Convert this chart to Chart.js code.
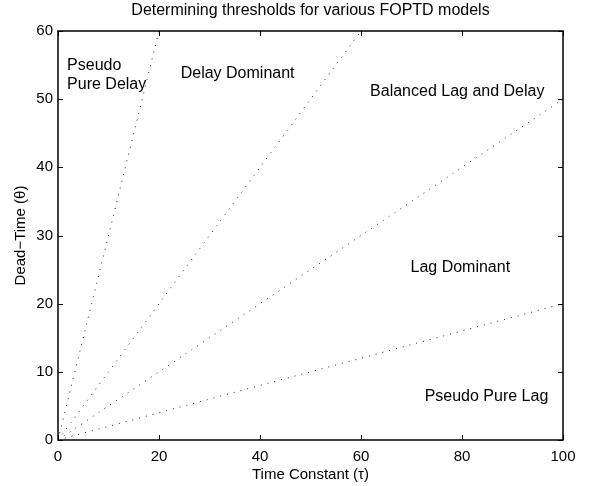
<!DOCTYPE html>
<html>
<head>
<meta charset="utf-8">
<script src="https://cdn.jsdelivr.net/npm/chart.js@4/dist/chart.umd.min.js"></script>
<style>
  html, body { margin: 0; padding: 0; background: #fff; }
  #wrap { width: 594px; height: 486px; }
</style>
</head>
<body>
<div id="wrap"><canvas id="chart" width="594" height="486"></canvas></div>
<script>
// threshold lines, each drawn from the origin to its end point
const lineNames = ['θ/τ = 3', 'θ/τ = 1', 'θ/τ = 0.5', 'θ/τ = 0.2'];
const tauEnd = [20, 60, 100, 100];
const thetaEnd = [60, 60, 50, 20];

// axis ticks
const xTicks = [0, 20, 40, 60, 80, 100];
const yTicks = [0, 10, 20, 30, 40, 50, 60];

// region labels (data coordinates, left edge / vertical middle)
const regionText = [['Pseudo', 'Pure Delay'], ['Delay Dominant'], ['Balanced Lag and Delay'], ['Lag Dominant'], ['Pseudo Pure Lag']];
const regionTau = [1.8, 24.3, 61.8, 69.8, 72.6];
const regionTheta = [53.6, 53.7, 51.1, 25.3, 6.3];

const titleText = 'Determining thresholds for various FOPTD models';
const FAMILY = '"Liberation Sans", Arial, Helvetica, sans-serif';
const FONT = '16px ' + FAMILY;

const datasets = lineNames.map((n, i) => ({
  label: n,
  data: [{x: 0, y: 0}, {x: tauEnd[i], y: thetaEnd[i]}],
  showLine: true,
  borderColor: '#222',
  borderWidth: 1,
  borderDash: [1, 6],
  pointRadius: 0,
  fill: false
}));

// inward ticks on all four sides, box, title and region labels
const decor = {
  id: 'decor',
  afterDraw(chart){
    const {ctx, chartArea: a, scales: {x, y}} = chart;
    ctx.save();
    ctx.strokeStyle = '#000';
    ctx.lineWidth = 1;
    ctx.beginPath();
    xTicks.forEach(v=>{
      const px = Math.round(x.getPixelForValue(v)) + 0.5;
      ctx.moveTo(px, a.bottom); ctx.lineTo(px, a.bottom - 5);
      ctx.moveTo(px, a.top); ctx.lineTo(px, a.top + 5);
    });
    yTicks.forEach(v=>{
      const py = Math.round(y.getPixelForValue(v)) + 0.5;
      ctx.moveTo(a.left, py); ctx.lineTo(a.left + 5, py);
      ctx.moveTo(a.right, py); ctx.lineTo(a.right - 5, py);
    });
    ctx.stroke();
    ctx.lineWidth = 1.5;
    ctx.strokeRect(a.left, a.top, a.right - a.left, a.bottom - a.top);

    ctx.fillStyle = '#000';
    ctx.font = FONT;
    ctx.textAlign = 'center';
    ctx.textBaseline = 'middle';
    ctx.fillText(titleText, (a.left + a.right) / 2, 11);

    ctx.textAlign = 'left';
    regionText.forEach((lines, i)=>{
      const px = x.getPixelForValue(regionTau[i]);
      const py = y.getPixelForValue(regionTheta[i]);
      const lh = 19;
      lines.forEach((t, k)=>{
        ctx.fillText(t, px, py + (k - (lines.length - 1) / 2) * lh);
      });
    });
    ctx.restore();
  }
};

new Chart(document.getElementById('chart'), {
  type: 'scatter',
  data: { datasets },
  options: {
    responsive: false,
    animation: false,
    layout: { padding: { top: 31, right: 31, left: 0, bottom: 0 } },
    plugins: { legend: { display: false }, tooltip: { enabled: false } },
    scales: {
      x: {
        type: 'linear', min: 0, max: 100,
        afterBuildTicks: s => { s.ticks = xTicks.map(v => ({value: v})); },
        afterFit: s => { s.height = 46; },
        grid: { display: false, drawTicks: false },
        border: { display: false },
        ticks: { color: '#000', font: { family: FAMILY, size: 15 }, padding: 8, maxRotation: 0 },
        title: { display: true, text: 'Time Constant (τ)', color: '#000', font: { family: FAMILY, size: 15 }, padding: { top: 0, bottom: 2 } }
      },
      y: {
        type: 'linear', min: 0, max: 60,
        afterBuildTicks: s => { s.ticks = yTicks.map(v => ({value: v})); },
        afterFit: s => { s.width = 58; },
        grid: { display: false, drawTicks: false },
        border: { display: false },
        ticks: { color: '#000', font: { family: FAMILY, size: 15 }, padding: 5 },
        title: { display: true, text: 'Dead−Time (θ)', color: '#000', font: { family: FAMILY, size: 15 }, padding: { top: 12, bottom: 4 } }
      }
    }
  },
  plugins: [decor]
});
</script>
</body>
</html>
